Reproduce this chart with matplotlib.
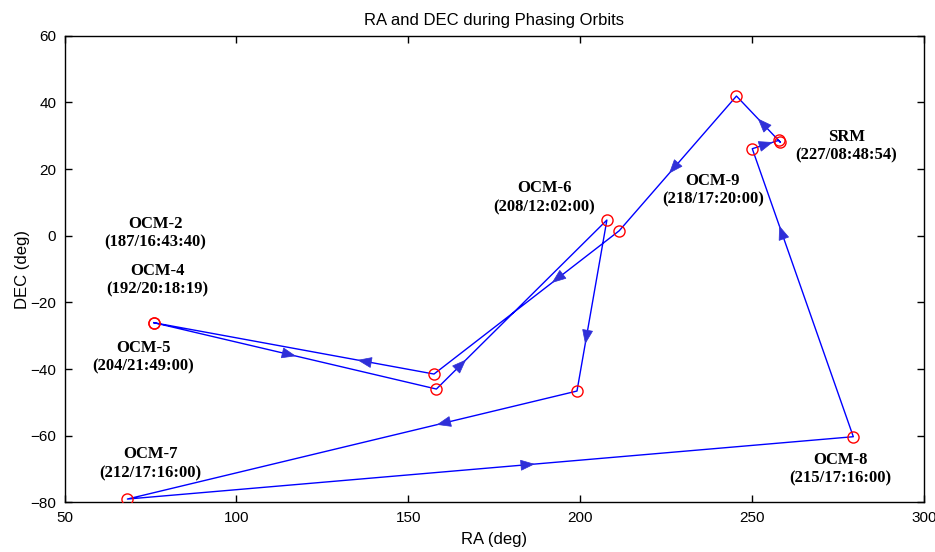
import matplotlib
matplotlib.use("Agg")
import matplotlib.pyplot as plt
import numpy as np
from matplotlib.patches import Polygon

# Path of the spacecraft pointing (RA, DEC) through the phasing orbits
ra = [76.0, 158.2, 207.8, 199.1, 68.3, 279.5, 250.1, 257.8, 258.3, 245.5, 211.4, 157.5, 76.0]
dec = [-26.1, -46.0, 4.7, -46.6, -79.0, -60.3, 26.1, 28.6, 28.0, 41.9, 1.5, -41.5, -26.1]

# fraction along each segment where a direction arrow is drawn (None = no arrow)
arrow_frac = [0.50, 0.17, 0.72, 0.31, 0.56, 0.73, 0.75, None, 0.50, 0.57, 0.36, 0.27]

# Event labels: name, time tag, label centre (RA, DEC)
label_names = ["OCM-2", "OCM-4", "OCM-5", "OCM-6", "OCM-9", "SRM", "OCM-7", "OCM-8"]
label_times = ["(187/16:43:40)", "(192/20:18:19)", "(204/21:49:00)", "(208/12:02:00)",
               "(218/17:20:00)", "(227/08:48:54)", "(212/17:16:00)", "(215/17:16:00)"]
label_ra = [76.5, 77.0, 72.9, 189.6, 238.6, 277.5, 75.1, 275.7]
label_dec = [0.8, -13.3, -36.5, 11.4, 13.6, 26.9, -68.4, -70.0]

x_ticks = [50, 100, 150, 200, 250, 300]
y_ticks = [-80, -60, -40, -20, 0, 20, 40, 60]

fig = plt.figure(figsize=(9.35, 5.52), dpi=100)
ax = fig.add_axes([0.069, 0.0899, 0.919, 0.8454])
ax.set_xlim(50, 300)
ax.set_ylim(-80, 60)

line_color = "#0000ff"
ax.plot(ra, dec, color=line_color, lw=1.0, zorder=2)
ax.plot(ra, dec, linestyle="none", marker="o", markersize=8, markerfacecolor="none",
        markeredgecolor="red", markeredgewidth=1.0, zorder=3)

# arrow heads drawn as filled triangles oriented in display space
head_len = 13.0
head_half = 5.0
to_disp = ax.transData
to_data = ax.transData.inverted()
for i, t in enumerate(arrow_frac):
    if t is None:
        continue
    x0, y0 = ra[i], dec[i]
    x1, y1 = ra[i + 1], dec[i + 1]
    tip = (x0 + (x1 - x0) * t, y0 + (y1 - y0) * t)
    p0 = to_disp.transform((x0, y0))
    p1 = to_disp.transform((x1, y1))
    ptip = to_disp.transform(tip)
    d = (p1 - p0) / np.hypot(*(p1 - p0))
    n = np.array([-d[1], d[0]])
    base = ptip - d * head_len
    tri_disp = np.array([ptip, base + n * head_half, base - n * head_half])
    tri = to_data.transform(tri_disp)
    ax.add_patch(Polygon(tri, closed=True, facecolor="#2f2fd8", edgecolor="#2f2fd8",
                         lw=0.5, zorder=4))

for name, tm, x, y in zip(label_names, label_times, label_ra, label_dec):
    ax.text(x, y, name + "\n" + tm, ha="center", va="center", family="Liberation Serif",
            fontweight="bold", fontsize=12, linespacing=1.25, color="black")

ax.set_xticks(x_ticks)
ax.set_yticks(y_ticks)
ax.tick_params(direction="in", top=True, right=True, length=5, width=1,
               labelsize=11, pad=6)
for lab in ax.get_xticklabels() + ax.get_yticklabels():
    lab.set_family("Liberation Sans")
for s in ax.spines.values():
    s.set_linewidth(1.0)

ax.set_title("RA and DEC during Phasing Orbits", family="Liberation Sans", fontsize=12, pad=8)
ax.set_xlabel("RA (deg)", family="Liberation Sans", fontsize=12, labelpad=5)
ax.set_ylabel("DEC (deg)", family="Liberation Sans", fontsize=12, labelpad=0)

fig.savefig("out.png", dpi=100)
